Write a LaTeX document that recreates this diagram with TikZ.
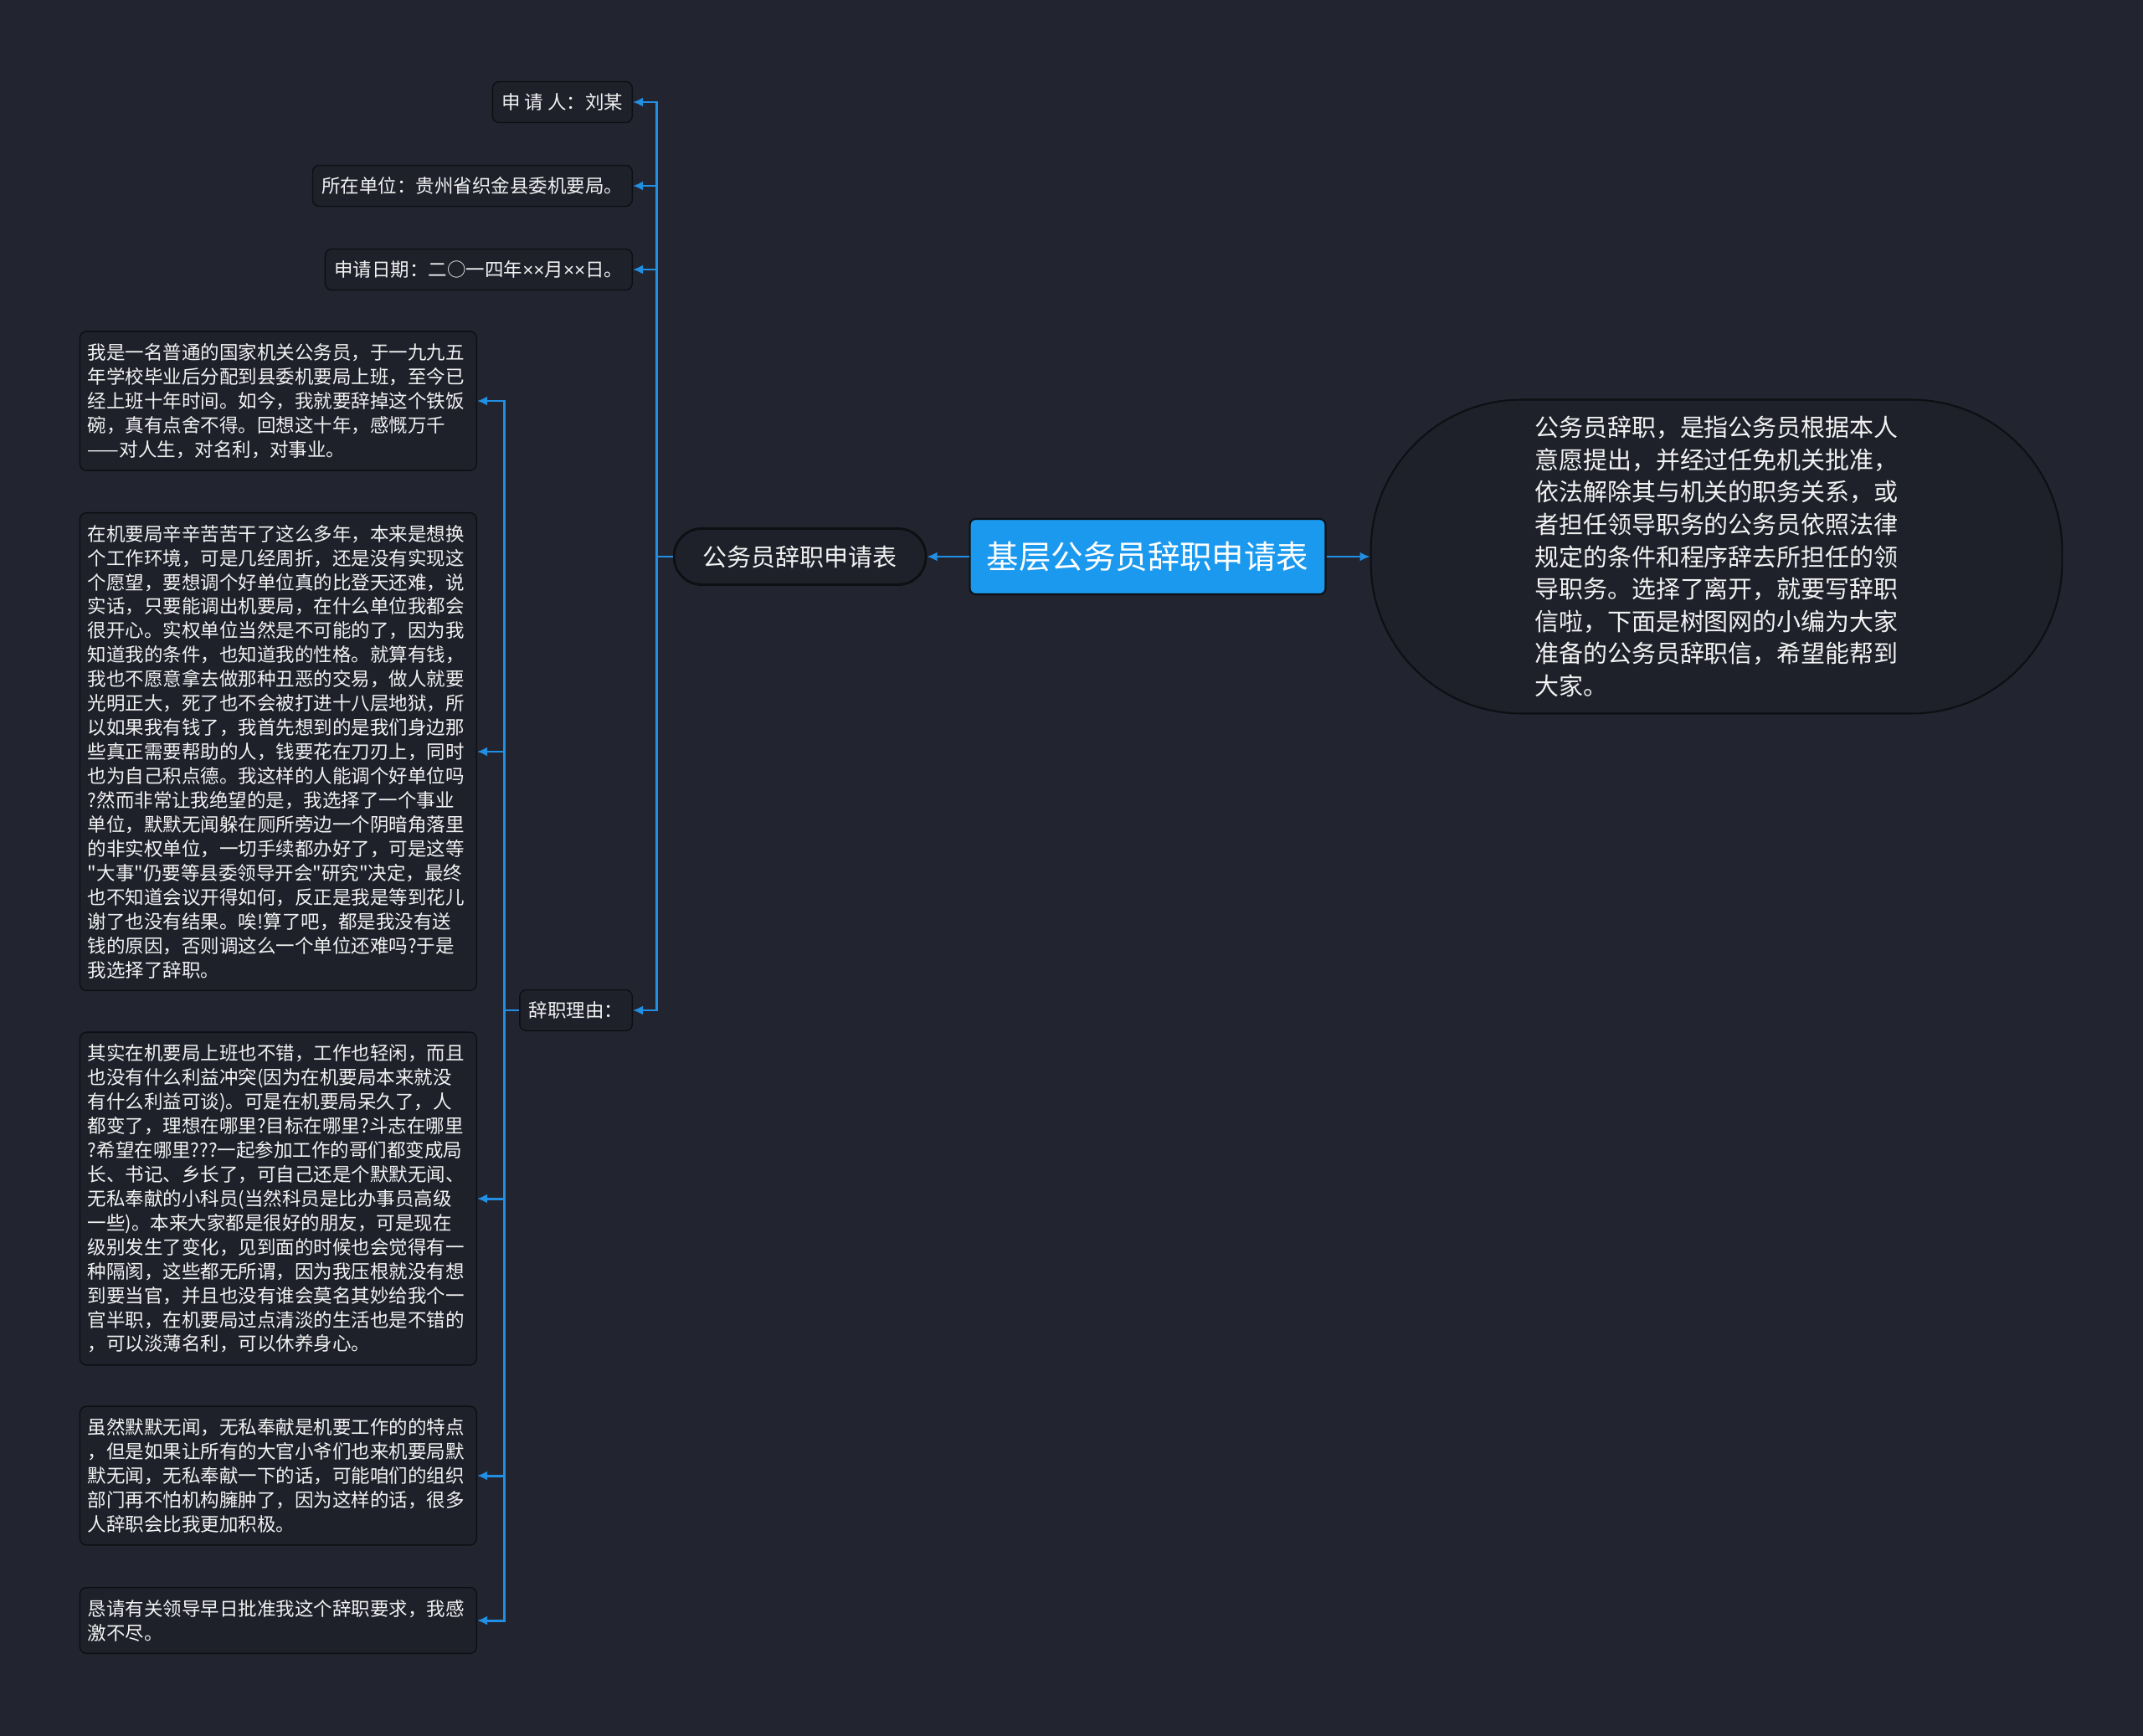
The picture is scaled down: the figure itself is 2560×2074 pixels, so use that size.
\documentclass[tikz,border=0pt]{standalone}
\usepackage{fontspec}
\setmainfont{Noto Sans CJK SC}
\newfontfamily\cjkfont{Noto Sans CJK SC}
\newfontfamily\latinfont{Liberation Sans}
\usepackage{tikz}
\usetikzlibrary{arrows.meta, positioning, calc}
\definecolor{canvasDark}{RGB}{34, 37, 48}
\definecolor{cardDark}{RGB}{30, 32, 42}
\definecolor{edgeBlack}{RGB}{14, 15, 19}
\definecolor{rootBlue}{RGB}{27, 153, 239}
\definecolor{linkBlue}{RGB}{33, 143, 228}
\definecolor{softWhite}{RGB}{242, 242, 242}
\newcommand{\timesmark}{{\latinfont ×}}

\begin{document}
\begin{tikzpicture}[
    x=0.02cm, y=-0.02cm,
    title/.style={rectangle, draw=edgeBlack, line width=1.2pt, fill=rootBlue, rounded corners=4pt, minimum width=8.5cm, minimum height=1.8cm, text=white, font=\cjkfont\fontsize{21.9}{26}\selectfont},
    topic/.style={rectangle, draw=edgeBlack, line width=1.6pt, fill=cardDark, rounded corners=0.66cm, minimum width=6.02cm, minimum height=1.34cm, text=softWhite, font=\cjkfont\fontsize{16.5}{20}\selectfont},
    summary/.style={rectangle, draw=edgeBlack, line width=1.2pt, fill=cardDark, rounded corners=3.6cm, minimum width=16.52cm, minimum height=7.5cm, text=softWhite, align=left, font=\cjkfont\fontsize{16.5}{21.96}\selectfont},
    item/.style={rectangle, draw=edgeBlack, line width=0.8pt, fill=cardDark, rounded corners=4.5pt, inner xsep=0.22cm, minimum height=0.98cm, anchor=east, text=softWhite, font=\cjkfont\fontsize{12.8}{16.47}\selectfont},
    para/.style={item, text width=9.1cm, inner xsep=0.19cm, inner ysep=0.29cm, align=left},
    link/.style={-{Latex[length=0.24cm, width=0.22cm]}, line width=1.7pt, linkBlue}
]
    \fill[canvasDark] (0,0) rectangle (2560,2074);
    \useasboundingbox (0,0) rectangle (2560,2074);

    % Centre: title with the topic on its left and the summary on its right
    \node[title] (root) at (1371,665) {基层公务员辞职申请表};
    \node[topic, left=1.0cm of root] (form) {公务员辞职申请表};
    \node[summary, right=1.04cm of root] (intro) {
        公务员辞职，是指公务员根据本人\\
        意愿提出，并经过任免机关批准，\\
        依法解除其与机关的职务关系，或\\
        者担任领导职务的公务员依照法律\\
        规定的条件和程序辞去所担任的领\\
        导职务。选择了离开，就要写辞职\\
        信啦，下面是树图网的小编为大家\\
        准备的公务员辞职信，希望能帮到\\
        大家。
    };

    % Header fields and the reason heading
    \node[item] (applicant) at (756,122) {申 请 人：刘某};
    \node[item] (unit) at (756,222) {所在单位：贵州省织金县委机要局。};
    \node[item] (date) at (756,322) {申请日期：二○一四年\timesmark\timesmark 月\timesmark\timesmark 日。};
    \node[item] (reason) at (756,1207) {辞职理由：};

    % Reason paragraphs
    \node[para] (story) at (570,479) {
        我是一名普通的国家机关公务员，于一九九五\\
        年学校毕业后分配到县委机要局上班，至今已\\
        经上班十年时间。如今，我就要辞掉这个铁饭\\
        碗，真有点舍不得。回想这十年，感慨万千\\
        ——对人生，对名利，对事业。
    };
    \node[para] (transfer) at (570,898) {
        在机要局辛辛苦苦干了这么多年，本来是想换\\
        个工作环境，可是几经周折，还是没有实现这\\
        个愿望，要想调个好单位真的比登天还难，说\\
        实话，只要能调出机要局，在什么单位我都会\\
        很开心。实权单位当然是不可能的了，因为我\\
        知道我的条件，也知道我的性格。就算有钱，\\
        我也不愿意拿去做那种丑恶的交易，做人就要\\
        光明正大，死了也不会被打进十八层地狱，所\\
        以如果我有钱了，我首先想到的是我们身边那\\
        些真正需要帮助的人，钱要花在刀刃上，同时\\
        也为自己积点德。我这样的人能调个好单位吗\\
        ?然而非常让我绝望的是，我选择了一个事业\\
        单位，默默无闻躲在厕所旁边一个阴暗角落里\\
        的非实权单位，一切手续都办好了，可是这等\\
        "大事"仍要等县委领导开会"研究"决定，最终\\
        也不知道会议开得如何，反正是我是等到花儿\\
        谢了也没有结果。唉!算了吧，都是我没有送\\
        钱的原因，否则调这么一个单位还难吗?于是\\
        我选择了辞职。
    };
    \node[para] (quiet) at (570,1432) {
        其实在机要局上班也不错，工作也轻闲，而且\\
        也没有什么利益冲突(因为在机要局本来就没\\
        有什么利益可谈)。可是在机要局呆久了，人\\
        都变了，理想在哪里?目标在哪里?斗志在哪里\\
        ?希望在哪里???一起参加工作的哥们都变成局\\
        长、书记、乡长了，可自己还是个默默无闻、\\
        无私奉献的小科员(当然科员是比办事员高级\\
        一些)。本来大家都是很好的朋友，可是现在\\
        级别发生了变化，见到面的时候也会觉得有一\\
        种隔阂，这些都无所谓，因为我压根就没有想\\
        到要当官，并且也没有谁会莫名其妙给我个一\\
        官半职，在机要局过点清淡的生活也是不错的\\
        ，可以淡薄名利，可以休养身心。
    };
    \node[para] (devotion) at (570,1763) {
        虽然默默无闻，无私奉献是机要工作的的特点\\
        ，但是如果让所有的大官小爷们也来机要局默\\
        默无闻，无私奉献一下的话，可能咱们的组织\\
        部门再不怕机构臃肿了，因为这样的话，很多\\
        人辞职会比我更加积极。
    };
    \node[para] (request) at (570,1936) {
        恳请有关领导早日批准我这个辞职要求，我感\\
        激不尽。
    };

    % Connectors
    \draw[link] (root.west) -- (form.east);
    \draw[link] (root.east) -- (intro.west);
    \foreach \c in {applicant, unit, date, reason}
        \draw[link] (form.west) -- ++(-19,0) |- (\c.east);
    \foreach \c in {story, transfer, quiet, devotion, request}
        \draw[link] (reason.west) -- ++(-18,0) |- (\c.east);
\end{tikzpicture}
\end{document}
